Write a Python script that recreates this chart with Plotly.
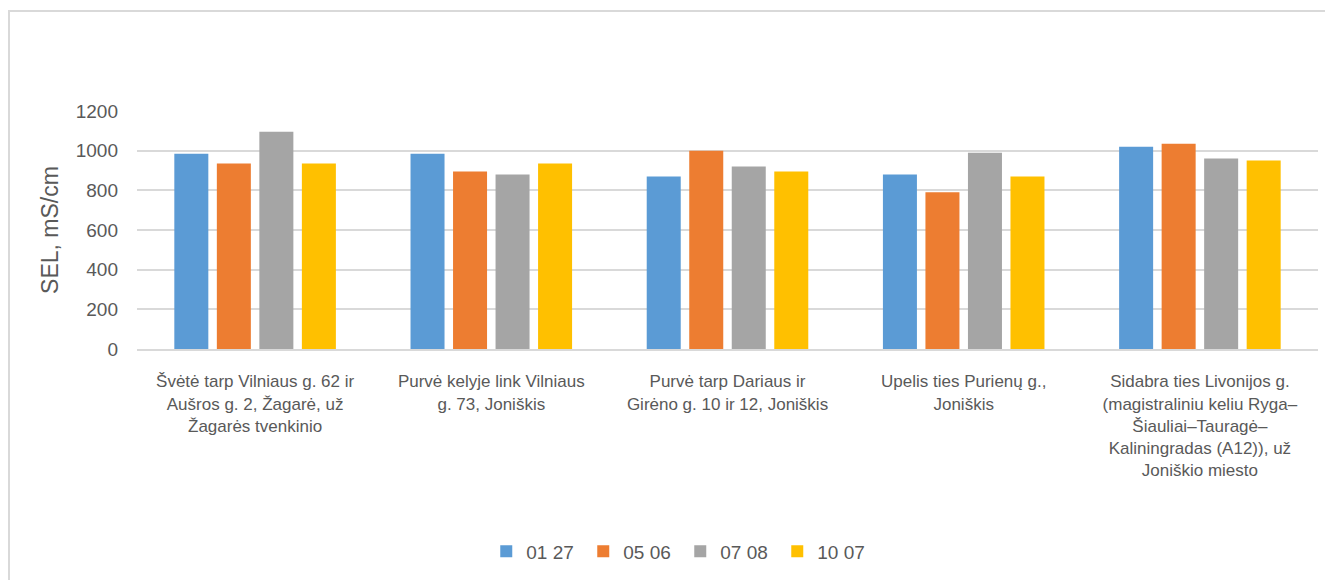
import plotly.graph_objects as go

categories = [
    "Švėtė tarp Vilniaus g. 62 ir<br>Aušros g. 2, Žagarė, už<br>Žagarės tvenkinio",
    "Purvė kelyje link Vilniaus<br>g. 73, Joniškis",
    "Purvė tarp Dariaus ir<br>Girėno g. 10 ir 12, Joniškis",
    "Upelis ties Purienų g.,<br>Joniškis",
    "Sidabra ties Livonijos g.<br>(magistraliniu keliu Ryga–<br>Šiauliai–Tauragė–<br>Kaliningradas (A12)), už<br>Joniškio miesto",
]
series_names = ["01 27", "05 06", "07 08", "10 07"]
v_0127 = [985, 985, 870, 880, 1020]
v_0506 = [935, 895, 1000, 790, 1035]
v_0708 = [1095, 880, 920, 990, 960]
v_1007 = [935, 935, 895, 870, 950]
colors = ["#5B9BD5", "#ED7D31", "#A5A5A5", "#FFC000"]
y_ticks = [0, 200, 400, 600, 800, 1000, 1200]

fig = go.Figure()
for name, vals, col in zip(series_names, [v_0127, v_0506, v_0708, v_1007], colors):
    fig.add_trace(go.Bar(x=categories, y=vals, name=name, marker=dict(color=col, line=dict(width=0))))

# page body has an 8px offset; plot area targets x 137..1318, y 111..349 on screen
L, T, PW, PH = 129, 103, 1181, 238
W, H = 1317, 572
fig.update_layout(
    width=W, height=H,
    margin=dict(l=L, r=W - L - PW, t=T, b=H - T - PH),
    paper_bgcolor="white", plot_bgcolor="white",
    barmode="group", bargap=0.28, bargroupgap=0.2,
    font=dict(family="Liberation Sans, Arial, sans-serif", color="#595959"),
    xaxis=dict(showgrid=False, showline=True, linecolor="#D9D9D9", linewidth=2,
               tickfont=dict(size=17, color="#595959"), ticks="", fixedrange=True,
               ticklabelstandoff=16),
    yaxis=dict(range=[0, 1200], tickvals=y_ticks, showgrid=True, gridcolor="#D9D9D9", gridwidth=2,
               zeroline=False, showline=False, tickfont=dict(size=19, color="#595959"),
               title=dict(text="SEL, mS/cm", font=dict(size=23, color="#595959"), standoff=10),
               ticks="", ticklabelstandoff=18),
    legend=dict(orientation="h", x=0.46, xanchor="center", y=-0.85, yanchor="middle",
                font=dict(size=19, color="#595959"), itemwidth=30, traceorder="normal",
                entrywidth=52),
    shapes=[dict(type="rect", xref="paper", yref="paper",
                 x0=(9 - 137) / PW, x1=1.05, y0=-1.2, y1=(349 - 11) / PH,
                 line=dict(color="#D9D9D9", width=2), fillcolor="rgba(0,0,0,0)", layer="below")],
)

fig.write_html("out.html")
